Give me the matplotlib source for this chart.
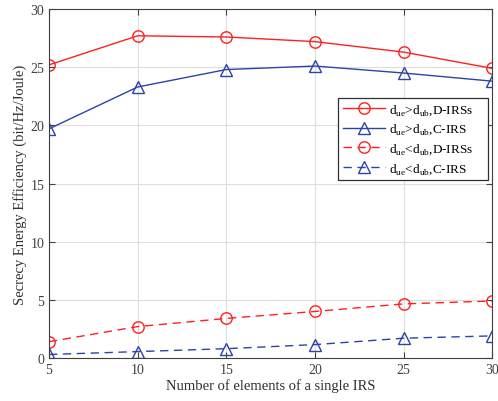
import matplotlib
matplotlib.use("Agg")
import matplotlib.pyplot as plt

plt.rcParams['font.family'] = ['Liberation Serif', 'DejaVu Serif']
plt.rcParams['mathtext.fontset'] = 'custom'
plt.rcParams['mathtext.rm'] = 'Liberation Serif'

# datos
n_elem = [5, 10, 15, 20, 25, 30]
d_irs_gt = [25.2, 27.7, 27.6, 27.2, 26.3, 24.9]
c_irs_gt = [19.7, 23.3, 24.8, 25.1, 24.5, 23.8]
d_irs_lt = [1.4, 2.7, 3.4, 4.0, 4.65, 4.9]
c_irs_lt = [0.3, 0.55, 0.8, 1.15, 1.7, 1.9]

labels = [r'd$_{\mathrm{ue}}$>d$_{\mathrm{ub}}$,D-IRSs',
          r'd$_{\mathrm{ue}}$>d$_{\mathrm{ub}}$,C-IRS',
          r'd$_{\mathrm{ue}}$<d$_{\mathrm{ub}}$,D-IRSs',
          r'd$_{\mathrm{ue}}$<d$_{\mathrm{ub}}$,C-IRS']

red = '#ff2020'
blue = '#2c44a4'

fig = plt.figure(figsize=(4.98, 4.02), dpi=100)
ax = fig.add_axes([0.0984, 0.107, 0.890, 0.868])

ax.plot(n_elem, d_irs_gt, '-', color=red, marker='o', ms=8.2, mfc='none', lw=1, label=labels[0])
ax.plot(n_elem, c_irs_gt, '-', color=blue, marker='^', ms=9, mfc='none', lw=1, label=labels[1])
ax.plot(n_elem, d_irs_lt, '--', color=red, marker='o', ms=8.2, mfc='none', lw=1, dashes=(6, 4), label=labels[2])
ax.plot(n_elem, c_irs_lt, '--', color=blue, marker='^', ms=9, mfc='none', lw=1, dashes=(6, 4), label=labels[3])

ax.set_xlim(5, 30)
ax.set_ylim(0, 30)
ax.set_xticks([5, 10, 15, 20, 25, 30])
ax.set_yticks([0, 5, 10, 15, 20, 25, 30])
ax.grid(True, color='#dedede', lw=0.8)
ax.tick_params(direction='in', top=True, right=True, labelsize=10, colors='#404040', length=4)
for s in ax.spines.values():
    s.set_color('#404040')
    s.set_linewidth(0.8)

ax.set_xlabel('Number of elements of a single IRS', fontsize=10.5, color='#303030', labelpad=2)
ax.set_ylabel('Secrecy Energy Efficiency (bit/Hz/Joule)', fontsize=10.5, color='#303030', labelpad=2)

leg = ax.legend(loc='upper right', bbox_to_anchor=(1.0, 0.757), fontsize=9.5, handlelength=3.2,
                fancybox=False, framealpha=1, edgecolor='#303030', borderpad=0.35,
                labelspacing=0.38, handletextpad=0.3, borderaxespad=0.3)
leg.get_frame().set_linewidth(0.9)
# margen derecho como en MATLAB
for t in leg.get_texts():
    t.set_text(t.get_text() + '    ')

fig.savefig('out.png', dpi=100)
